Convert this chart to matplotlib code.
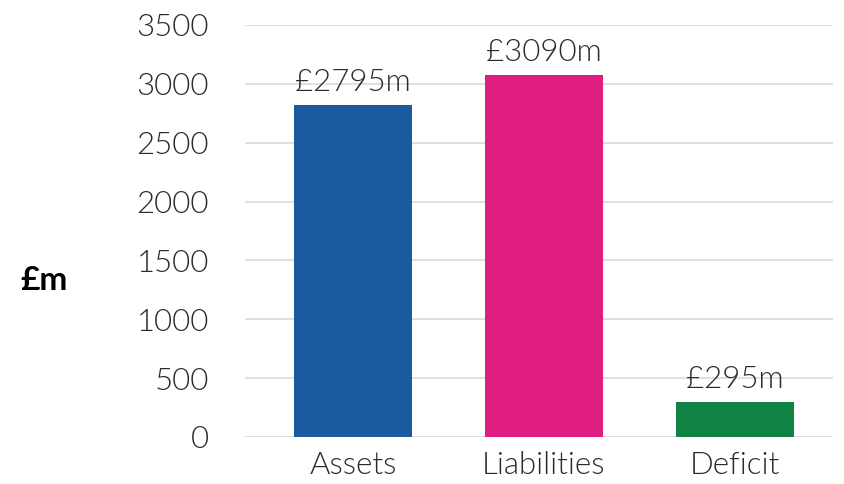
import matplotlib.pyplot as plt

# Chart data
categories = ["Assets", "Liabilities", "Deficit"]
values = [2820, 3075, 295]
value_labels = ["£2795m", "£3090m", "£295m"]
colors = ["#1C5AA0", "#E01E82", "#0F8244"]
yticks = [0, 500, 1000, 1500, 2000, 2500, 3000, 3500]

plt.rcParams["font.family"] = ["Lato", "DejaVu Sans"]
text_color = "#2B2B2B"
fs = 22.5

fig = plt.figure(figsize=(8.45, 4.84), dpi=100)
ax = fig.add_axes([245 / 845, 1 - 437 / 484, (833 - 245) / 845, (437 - 25) / 484])

x = range(len(categories))
ax.bar(x, values, width=0.62, color=colors, zorder=3)

for i, (v, lab) in enumerate(zip(values, value_labels)):
    ax.annotate(lab, (i, v), xytext=(0, 6), textcoords="offset points",
                ha="center", va="bottom", fontsize=fs, fontweight=300,
                color=text_color)

ax.set_ylim(0, 3500)
ax.set_xlim(-0.565, 2.515)
ax.set_yticks(yticks)
ax.set_yticklabels([str(t) for t in yticks], fontsize=fs, fontweight=300,
                   color=text_color)
ax.set_xticks(list(x))
ax.set_xticklabels(categories, fontsize=fs, fontweight=300, color=text_color)
ax.tick_params(axis="both", length=0)
ax.tick_params(axis="y", pad=26)
ax.tick_params(axis="x", pad=10)

ax.grid(axis="y", color="#D9D9D9", linewidth=1.2, zorder=0)
for s in ax.spines.values():
    s.set_visible(False)

fig.text(20 / 845, 1 - 280 / 484, "£m", fontsize=24, fontweight="bold",
         color="black", va="center", ha="left")

plt.savefig("out.png", dpi=100)
